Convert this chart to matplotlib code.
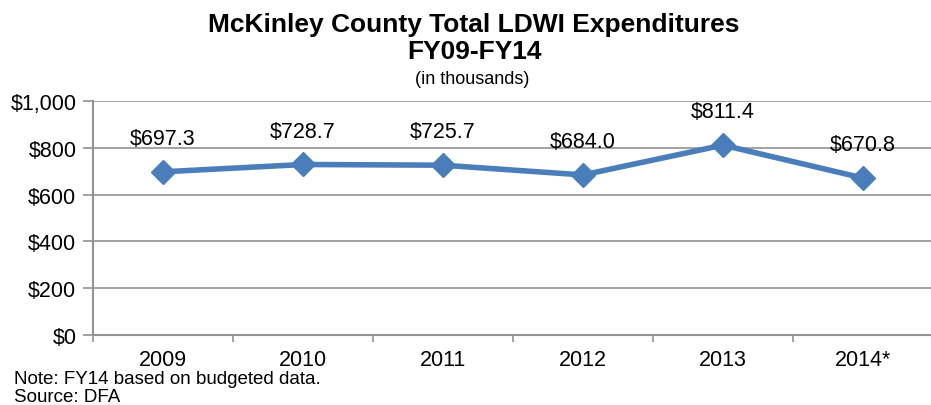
import matplotlib
matplotlib.use("Agg")
import matplotlib.pyplot as plt
import numpy as np

plt.rcParams['font.family'] = ['Liberation Sans', 'DejaVu Sans']

years = ["2009", "2010", "2011", "2012", "2013", "2014*"]
expenditures = [697.3, 728.7, 725.7, 684.0, 811.4, 670.8]
y_ticks = [0, 200, 400, 600, 800, 1000]
y_tick_labels = ["$0", "$200", "$400", "$600", "$800", "$1,000"]

line_color = "#4A7EBB"
grid_color = "#929292"

fig = plt.figure(figsize=(9.31, 4.06), dpi=100)
ax = fig.add_axes([93 / 931, 1 - 336 / 406, 840 / 931, (336 - 102) / 406])

x = np.arange(len(years))
ax.plot(x, expenditures, color=line_color, linewidth=4.0, marker="D",
        markersize=12.5, markerfacecolor=line_color, markeredgecolor=line_color,
        zorder=3, clip_on=False)

for xi, v in zip(x, expenditures):
    ax.annotate(f"${v:,.1f}", (xi, v), xytext=(0, 24), textcoords="offset points",
                ha="center", va="center", fontsize=15.5, color="black", zorder=4)

ax.set_xlim(-0.5, len(years) - 0.5)
ax.set_ylim(0, 1000)
ax.set_yticks(y_ticks)
ax.set_yticklabels(y_tick_labels, fontsize=15.5)
ax.yaxis.grid(True, color=grid_color, linewidth=1.2)
ax.set_axisbelow(True)

ax.set_xticks(x)
ax.set_xticklabels(years, fontsize=15.5)
ax.set_xticks(np.arange(-0.5, len(years)), minor=True)
ax.tick_params(axis="x", which="major", length=0, pad=10)
ax.tick_params(axis="x", which="minor", length=5, color=grid_color, width=1.2)
ax.tick_params(axis="y", length=7, color=grid_color, width=1.2, pad=5)

for side in ["top", "right"]:
    ax.spines[side].set_visible(False)
ax.spines["left"].set_color(grid_color)
ax.spines["left"].set_linewidth(1.5)
ax.spines["bottom"].set_color(grid_color)
ax.spines["bottom"].set_linewidth(1.5)

fig.text(474 / 931, 1 - 25 / 406, "McKinley County Total LDWI Expenditures",
         ha="center", va="center", fontsize=19, fontweight="bold")
fig.text(474 / 931, 1 - 52 / 406, "FY09-FY14",
         ha="center", va="center", fontsize=19, fontweight="bold")
fig.text(472 / 931, 1 - 79 / 406, "(in thousands)",
         ha="center", va="center", fontsize=13)

fig.text(14 / 931, 1 - 380 / 406, "Note: FY14 based on budgeted data.",
         ha="left", va="center", fontsize=13.5)
fig.text(14 / 931, 1 - 398 / 406, "Source: DFA",
         ha="left", va="center", fontsize=13.5)

fig.savefig("out.png", dpi=100)
